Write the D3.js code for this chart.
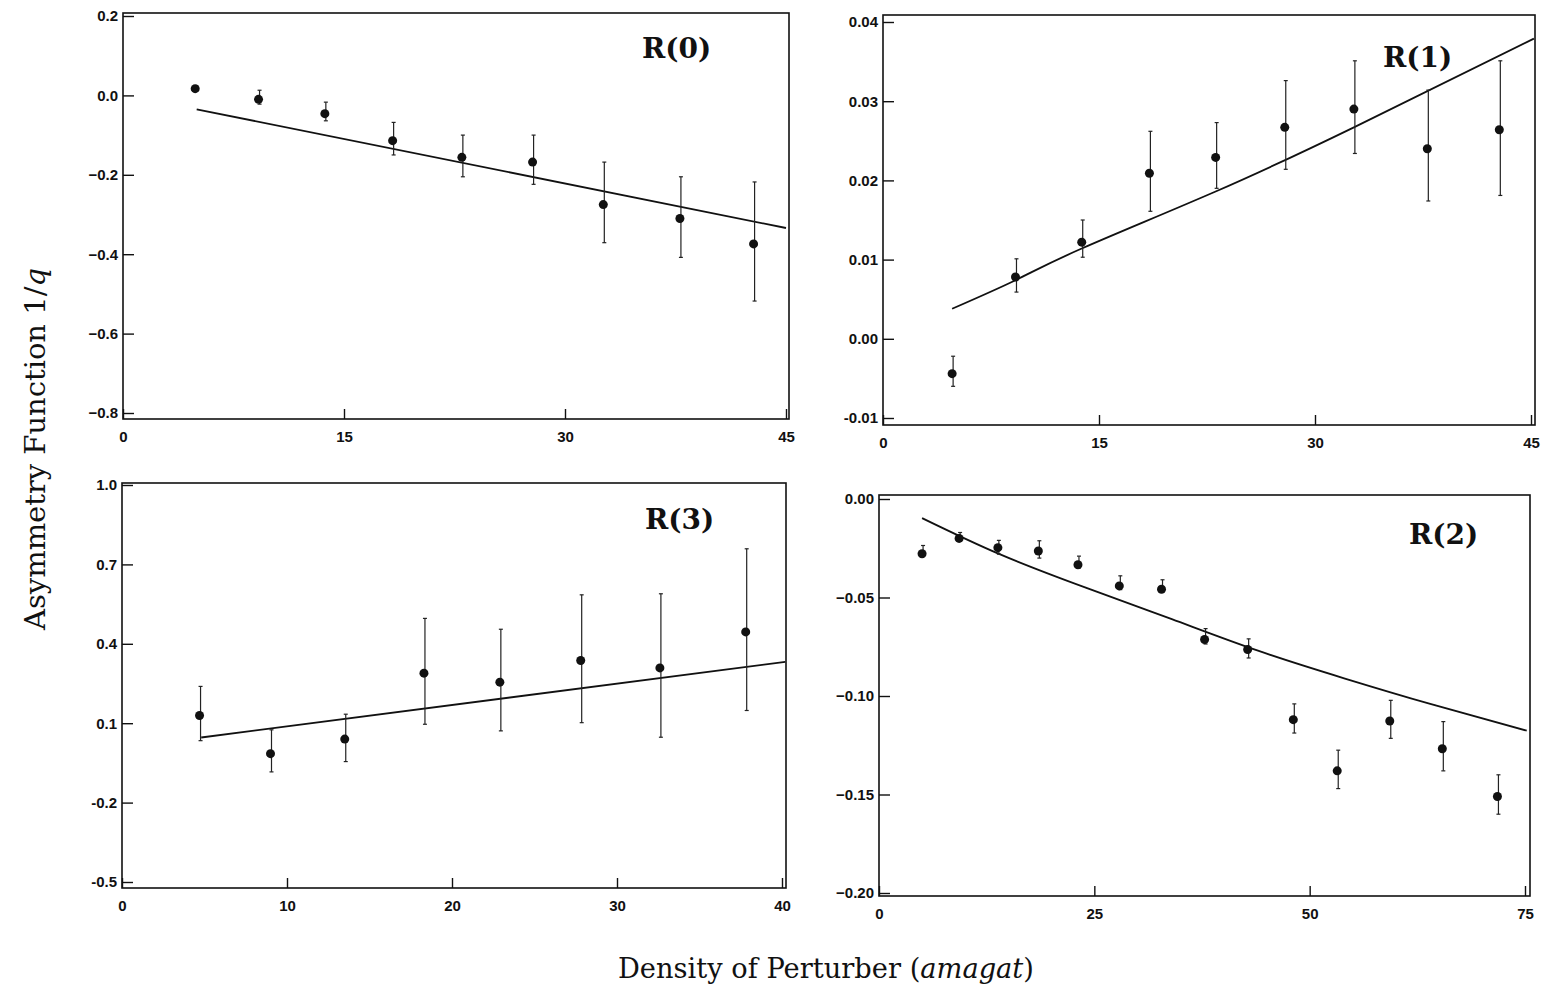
<!DOCTYPE html>
<html>
<head>
<meta charset="utf-8">
<script src="https://cdn.jsdelivr.net/npm/d3@7"></script>
<style>
  html, body { margin: 0; padding: 0; background: #fff; }
  svg { display: block; }
  .tick text { font-family: "Liberation Sans", Arial, sans-serif; font-size: 15px; font-weight: bold; fill: #111; }
  .tick line { stroke: #111; stroke-width: 1.4; }
</style>
</head>
<body>
<svg id="chart" width="1549" height="997"></svg>
<script>
// ---------------- DATA ----------------
// R(0)
const r0Density = [4.9, 9.2, 13.7, 18.3, 23.0, 27.8, 32.6, 37.8, 42.8];
const r0Value   = [0.017, -0.010, -0.046, -0.114, -0.156, -0.168, -0.275, -0.310, -0.374];
const r0High    = [0.024, 0.013, -0.017, -0.068, -0.100, -0.100, -0.168, -0.205, -0.218];
const r0Low     = [0.010, -0.022, -0.064, -0.150, -0.205, -0.224, -0.371, -0.408, -0.518];
const r0FitX    = [5.0, 45.0];
const r0FitY    = [-0.035, -0.334];
const r0TickX   = [0, 15, 30, 45];
const r0TickY   = [0.2, 0.0, -0.2, -0.4, -0.6, -0.8];
const r0TickYLabels = ["0.2", "0.0", "\u22120.2", "\u22120.4", "\u22120.6", "\u22120.8"];

// R(1)
const r1Density = [4.8, 9.2, 13.8, 18.5, 23.1, 27.9, 32.7, 37.8, 42.8];
const r1Value   = [-0.0044, 0.0078, 0.0122, 0.0209, 0.0229, 0.0267, 0.0290, 0.0240, 0.0264];
const r1High    = [-0.0022, 0.0101, 0.0150, 0.0262, 0.0273, 0.0326, 0.0351, 0.0314, 0.0351];
const r1Low     = [-0.0060, 0.0059, 0.0103, 0.0161, 0.0190, 0.0214, 0.0234, 0.0174, 0.0181];
const r1FitX    = [4.8, 9.2, 13.8, 23.1, 32.7, 45.2];
const r1FitY    = [0.0038, 0.0074, 0.0114, 0.0186, 0.0267, 0.0379];
const r1TickX   = [0, 15, 30, 45];
const r1TickY   = [0.04, 0.03, 0.02, 0.01, 0.00, -0.01];
const r1TickYLabels = ["0.04", "0.03", "0.02", "0.01", "0.00", "-0.01"];

// R(3)
const r3Density = [4.7, 9.0, 13.5, 18.3, 22.9, 27.8, 32.6, 37.8];
const r3Value   = [0.129, -0.015, 0.040, 0.289, 0.255, 0.337, 0.309, 0.445];
const r3High    = [0.239, 0.075, 0.134, 0.496, 0.455, 0.585, 0.589, 0.759];
const r3Low     = [0.034, -0.084, -0.045, 0.096, 0.071, 0.102, 0.047, 0.148];
const r3FitX    = [4.8, 40.2];
const r3FitY    = [0.046, 0.332];
const r3TickX   = [0, 10, 20, 30, 40];
const r3TickY   = [1.0, 0.7, 0.4, 0.1, -0.2, -0.5];
const r3TickYLabels = ["1.0", "0.7", "0.4", "0.1", "-0.2", "-0.5"];

// R(2)
const r2Density = [5.0, 9.3, 13.8, 18.5, 23.1, 27.9, 32.8, 37.8, 42.8, 48.1, 53.2, 59.3, 65.4, 71.8];
const r2Value   = [-0.0278, -0.0200, -0.0247, -0.0264, -0.0334, -0.0441, -0.0458, -0.0713, -0.0764, -0.1120, -0.1380, -0.1127, -0.1268, -0.1510];
const r2High    = [-0.0236, -0.0170, -0.0210, -0.0212, -0.0290, -0.0390, -0.0410, -0.0658, -0.0710, -0.1040, -0.1275, -0.1022, -0.1130, -0.1400];
const r2Low     = [-0.0290, -0.0215, -0.0280, -0.0300, -0.0350, -0.0460, -0.0470, -0.0736, -0.0807, -0.1188, -0.1470, -0.1215, -0.1380, -0.1600];
const r2FitX    = [5.0, 14.0, 24.0, 34.0, 44.0, 54.0, 64.0, 75.2];
const r2FitY    = [-0.0097, -0.0280, -0.0450, -0.0610, -0.0770, -0.0910, -0.1040, -0.1176];
const r2TickX   = [0, 25, 50, 75];
const r2TickY   = [0.00, -0.05, -0.10, -0.15, -0.20];
const r2TickYLabels = ["0.00", "\u22120.05", "\u22120.10", "\u22120.15", "\u22120.20"];

const yAxisTitle = "Asymmetry Function 1/";
const yAxisTitleItalic = "q";
const xAxisTitle = "Density of Perturber (";
const xAxisTitleItalic = "amagat";
// --------------------------------------

const svg = d3.select("#chart");

const panels = [
  { name: "R(0)", xs: r0Density, ys: r0Value, hi: r0High, lo: r0Low, fx: r0FitX, fy: r0FitY,
    tx: r0TickX, ty: r0TickY, tyl: r0TickYLabels,
    xDom: [0, 45], xRng: [123, 786], boxRight: 789,
    yDom: [-0.8, 0.2], yRng: [413, 16], boxTop: 13, boxBottom: 419,
    labelX: 642, labelY: 58 },
  { name: "R(1)", xs: r1Density, ys: r1Value, hi: r1High, lo: r1Low, fx: r1FitX, fy: r1FitY,
    tx: r1TickX, ty: r1TickY, tyl: r1TickYLabels,
    xDom: [0, 45], xRng: [883, 1531], boxRight: 1535,
    yDom: [-0.01, 0.04], yRng: [418, 22], boxTop: 15, boxBottom: 425,
    labelX: 1383, labelY: 67 },
  { name: "R(3)", xs: r3Density, ys: r3Value, hi: r3High, lo: r3Low, fx: r3FitX, fy: r3FitY,
    tx: r3TickX, ty: r3TickY, tyl: r3TickYLabels,
    xDom: [0, 40], xRng: [122, 782], boxRight: 786,
    yDom: [-0.5, 1.0], yRng: [882, 485], boxTop: 483, boxBottom: 888,
    labelX: 645, labelY: 529 },
  { name: "R(2)", xs: r2Density, ys: r2Value, hi: r2High, lo: r2Low, fx: r2FitX, fy: r2FitY,
    tx: r2TickX, ty: r2TickY, tyl: r2TickYLabels,
    xDom: [0, 75], xRng: [879, 1525], boxRight: 1530,
    yDom: [-0.2, 0.0], yRng: [893, 499], boxTop: 495, boxBottom: 896,
    labelX: 1409, labelY: 544 }
];

panels.forEach(p => {
  const x = d3.scaleLinear().domain(p.xDom).range(p.xRng);
  const y = d3.scaleLinear().domain(p.yDom).range(p.yRng);
  const g = svg.append("g");
  const left = p.xRng[0];

  // frame
  g.append("rect")
    .attr("x", left).attr("y", p.boxTop)
    .attr("width", p.boxRight - left).attr("height", p.boxBottom - p.boxTop)
    .attr("fill", "none").attr("stroke", "#111").attr("stroke-width", 1.6);

  // y axis (inward ticks)
  const yAxis = d3.axisLeft(y).tickValues(p.ty)
    .tickFormat((d, i) => p.tyl[i]).tickSize(-11).tickPadding(5);
  const ya = g.append("g").attr("transform", `translate(${left},0)`).call(yAxis);
  ya.select(".domain").remove();

  // x axis (inward ticks)
  const xAxis = d3.axisBottom(x).tickValues(p.tx)
    .tickFormat(d3.format("d")).tickSize(-10).tickPadding(12);
  const xa = g.append("g").attr("transform", `translate(0,${p.boxBottom})`).call(xAxis);
  xa.select(".domain").remove();

  // fit line
  const fitPts = p.fx.map((d, i) => [d, p.fy[i]]);
  g.append("path")
    .datum(fitPts)
    .attr("d", d3.line().x(d => x(d[0])).y(d => y(d[1])).curve(d3.curveNatural))
    .attr("fill", "none").attr("stroke", "#111").attr("stroke-width", 1.8);

  const pts = p.xs.map((d, i) => ({ x: d, y: p.ys[i], hi: p.hi[i], lo: p.lo[i] }));

  // error bars
  const eb = g.append("g").attr("stroke", "#222").attr("stroke-width", 1.2);
  eb.selectAll("line.v").data(pts).enter().append("line")
    .attr("x1", d => x(d.x) + 1).attr("x2", d => x(d.x) + 1)
    .attr("y1", d => y(d.hi)).attr("y2", d => y(d.lo));
  eb.selectAll("line.t").data(pts).enter().append("line")
    .attr("x1", d => x(d.x) - 1).attr("x2", d => x(d.x) + 3)
    .attr("y1", d => y(d.hi)).attr("y2", d => y(d.hi));
  eb.selectAll("line.b").data(pts).enter().append("line")
    .attr("x1", d => x(d.x) - 1).attr("x2", d => x(d.x) + 3)
    .attr("y1", d => y(d.lo)).attr("y2", d => y(d.lo));

  // points
  g.selectAll("circle").data(pts).enter().append("circle")
    .attr("cx", d => x(d.x)).attr("cy", d => y(d.y)).attr("r", 4.5)
    .attr("fill", "#111");

  // panel label
  g.append("text")
    .attr("x", p.labelX).attr("y", p.labelY)
    .attr("font-family", "'DejaVu Serif', serif").attr("font-weight", "bold")
    .attr("font-size", 28).attr("fill", "#111")
    .text(p.name);
});

// y axis title
const yt = svg.append("text")
  .attr("transform", "translate(45,449) rotate(-90)")
  .attr("text-anchor", "middle")
  .attr("font-family", "'DejaVu Serif', serif").attr("font-size", 28).attr("fill", "#111")
  .attr("textLength", 362).attr("lengthAdjust", "spacingAndGlyphs");
yt.append("tspan").text(yAxisTitle);
yt.append("tspan").attr("font-style", "italic").text(yAxisTitleItalic);

// x axis title
const xt = svg.append("text")
  .attr("x", 826).attr("y", 978)
  .attr("text-anchor", "middle")
  .attr("font-family", "'DejaVu Serif', serif").attr("font-size", 27).attr("fill", "#111")
  .attr("textLength", 416).attr("lengthAdjust", "spacingAndGlyphs");
xt.append("tspan").text(xAxisTitle);
xt.append("tspan").attr("font-style", "italic").text(xAxisTitleItalic);
xt.append("tspan").text(")");
</script>
</body>
</html>
